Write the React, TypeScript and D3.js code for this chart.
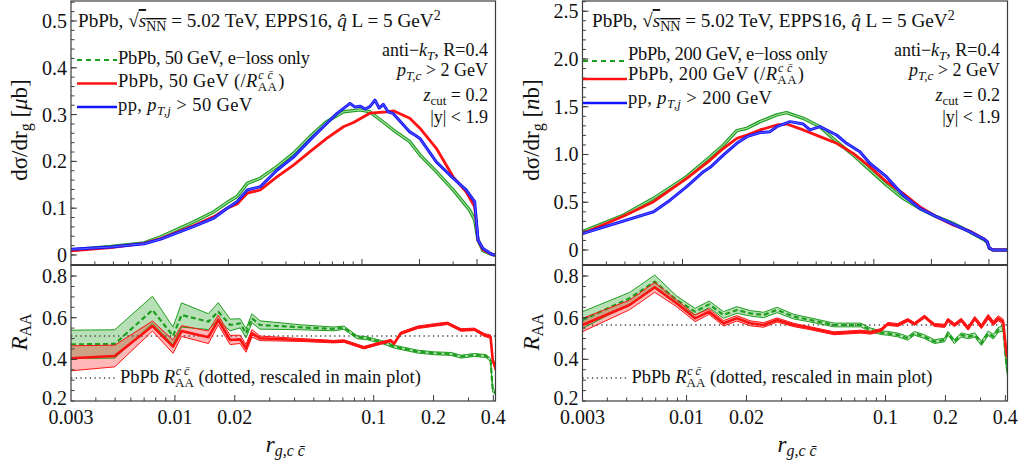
import * as d3 from "d3";
import React from "react";

// ---- data ----
// main panels: [r_g, dsigma/dr_g]
const left50Eloss: [number, number][] = [
  [0.003, 0.011], [0.00485, 0.018], [0.00724, 0.026], [0.00885, 0.039], [0.0132, 0.071],
  [0.0168, 0.0925], [0.0197, 0.112], [0.0222, 0.125], [0.0251, 0.153], [0.0294, 0.164],
  [0.0359, 0.189], [0.0438, 0.217], [0.0535, 0.253], [0.0654, 0.285], [0.08, 0.306],
  [0.0977, 0.31], [0.11, 0.306], [0.146, 0.267], [0.178, 0.242], [0.201, 0.214],
  [0.245, 0.178], [0.3, 0.139], [0.366, 0.096], [0.389, 0.075], [0.405, 0.032],
  [0.43, 0.009], [0.48, 0.001], [0.5, 0],
];
const left50Raa: [number, number][] = [
  [0.003, 0.009], [0.00485, 0.016], [0.00724, 0.025], [0.00885, 0.035], [0.0132, 0.063],
  [0.0168, 0.082], [0.0197, 0.1], [0.0222, 0.109], [0.0251, 0.132], [0.0294, 0.139],
  [0.0359, 0.167], [0.0438, 0.192], [0.0535, 0.221], [0.0654, 0.249], [0.08, 0.274],
  [0.0903, 0.283], [0.11, 0.303], [0.1349, 0.306], [0.146, 0.308], [0.178, 0.292],
  [0.201, 0.271], [0.245, 0.228], [0.3, 0.167], [0.351, 0.135], [0.389, 0.103],
  [0.405, 0.032], [0.43, 0.011], [0.48, 0.001], [0.5, 0],
];
const left50pp: [number, number][] = [
  [0.003, 0.012], [0.00485, 0.017], [0.00724, 0.024], [0.00885, 0.034], [0.0132, 0.061],
  [0.0168, 0.079], [0.0197, 0.1], [0.0222, 0.114], [0.0251, 0.139], [0.0294, 0.146],
  [0.0359, 0.181], [0.0438, 0.209], [0.0535, 0.246], [0.0654, 0.281], [0.0738, 0.302],
  [0.0866, 0.324], [0.092, 0.316], [0.0977, 0.318], [0.104, 0.312], [0.11, 0.317],
  [0.1169, 0.331], [0.123, 0.314], [0.1293, 0.322], [0.137, 0.306], [0.146, 0.302],
  [0.178, 0.263], [0.19, 0.256], [0.201, 0.249], [0.245, 0.199], [0.3, 0.164],
  [0.351, 0.139], [0.389, 0.114], [0.405, 0.032], [0.43, 0.014], [0.48, 0.001], [0.5, 0],
];

const right200Eloss: [number, number][] = [
  [0.003, 0.192], [0.00493, 0.366], [0.00706, 0.541], [0.01052, 0.768], [0.01396, 0.977],
  [0.01638, 1.1], [0.01923, 1.25], [0.02169, 1.274], [0.0254, 1.344], [0.0311, 1.414],
  [0.035, 1.438], [0.0428, 1.379], [0.0523, 1.291], [0.0639, 1.134], [0.078, 0.995],
  [0.0953, 0.838], [0.1164, 0.681], [0.1422, 0.541], [0.1738, 0.436], [0.2124, 0.349],
  [0.2595, 0.279], [0.317, 0.192], [0.379, 0.105], [0.392, 0.08], [0.4015, 0.019],
  [0.42, 0], [0.5, 0],
];
const right200Raa: [number, number][] = [
  [0.003, 0.171], [0.00493, 0.356], [0.00706, 0.506], [0.01052, 0.751], [0.01396, 0.942],
  [0.01638, 1.065], [0.01923, 1.169], [0.02169, 1.204], [0.0254, 1.257], [0.0311, 1.309],
  [0.035, 1.319], [0.0428, 1.257], [0.0523, 1.187], [0.0639, 1.117], [0.078, 1.012],
  [0.0953, 0.873], [0.1164, 0.715], [0.1422, 0.593], [0.1738, 0.454], [0.2124, 0.349],
  [0.2595, 0.262], [0.317, 0.199], [0.379, 0.112], [0.392, 0.085], [0.4015, 0.02],
  [0.42, 0], [0.5, 0],
];
const right200pp: [number, number][] = [
  [0.003, 0.171], [0.00706, 0.401], [0.00864, 0.524], [0.01052, 0.663], [0.01287, 0.82],
  [0.01396, 0.866], [0.01638, 0.995], [0.01923, 1.117], [0.02169, 1.187], [0.0254, 1.229],
  [0.02867, 1.239], [0.0311, 1.291], [0.0365, 1.344], [0.0428, 1.319], [0.0464, 1.257],
  [0.0523, 1.291], [0.0639, 1.204], [0.072, 1.117], [0.0846, 1.029], [0.0953, 0.908],
  [0.1164, 0.768], [0.1422, 0.576], [0.1738, 0.436], [0.2124, 0.349], [0.2595, 0.272],
  [0.317, 0.192], [0.379, 0.112], [0.392, 0.085], [0.4015, 0.02], [0.42, 0], [0.5, 0],
];

// ratio panels: [r_g, R_AA, half width of band]
const left50RatioEloss: [number, number, number][] = [
  [0.003, 0.472, 0.068], [0.00498, 0.474, 0.068], [0.00771, 0.637, 0.066], [0.00978, 0.512, 0.043],
  [0.0108, 0.613, 0.058], [0.01473, 0.581, 0.038], [0.01652, 0.629, 0.043], [0.01894, 0.565, 0.028],
  [0.02127, 0.573, 0.022], [0.0228, 0.525, 0.022], [0.0244, 0.597, 0.022], [0.0268, 0.565, 0.02],
  [0.0427, 0.554, 0.012], [0.063, 0.546, 0.009], [0.0708, 0.552, 0.008], [0.0826, 0.506, 0.007],
  [0.0928, 0.501, 0.007], [0.1126, 0.48, 0.007], [0.1266, 0.461, 0.007], [0.1668, 0.437, 0.007],
  [0.2026, 0.429, 0.007], [0.2449, 0.426, 0.007], [0.2749, 0.413, 0.007], [0.321, 0.421, 0.007],
  [0.367, 0.416, 0.007], [0.387, 0.397, 0.007], [0.397, 0.253, 0.01], [0.412, 0.237, 0.01],
];
const left50RatioRaa: [number, number, number][] = [
  [0.003, 0.405, 0.06], [0.00498, 0.416, 0.052], [0.00771, 0.56, 0.024], [0.00978, 0.461, 0.032],
  [0.0108, 0.536, 0.026], [0.01473, 0.506, 0.03], [0.01652, 0.589, 0.023], [0.01894, 0.493, 0.022],
  [0.02127, 0.496, 0.02], [0.0228, 0.453, 0.019], [0.0244, 0.525, 0.018], [0.0268, 0.501, 0.011],
  [0.0427, 0.493, 0.007], [0.063, 0.485, 0.006], [0.0708, 0.488, 0.006], [0.0893, 0.456, 0.006],
  [0.1044, 0.474, 0.006], [0.1218, 0.49, 0.006], [0.1266, 0.475, 0.006], [0.1368, 0.525, 0.006],
  [0.1668, 0.554, 0.006], [0.2026, 0.565, 0.006], [0.2353, 0.573, 0.006], [0.2749, 0.541, 0.006],
  [0.321, 0.544, 0.006], [0.3603, 0.517, 0.007], [0.387, 0.509, 0.008], [0.397, 0.397, 0.01],
  [0.412, 0.35, 0.01],
];
const right200RatioEloss: [number, number, number][] = [
  [0.003, 0.589, 0.04], [0.00517, 0.693, 0.028], [0.00692, 0.773, 0.032], [0.00891, 0.685, 0.019],
  [0.01104, 0.629, 0.016], [0.01298, 0.664, 0.016], [0.01535, 0.613, 0.016], [0.01791, 0.637, 0.016],
  [0.02091, 0.621, 0.013], [0.0244, 0.613, 0.013], [0.0285, 0.637, 0.013], [0.0346, 0.605, 0.011],
  [0.042, 0.589, 0.01], [0.0551, 0.565, 0.009], [0.0751, 0.565, 0.009], [0.0842, 0.541, 0.009],
  [0.0949, 0.528, 0.009], [0.1026, 0.525, 0.009], [0.1153, 0.517, 0.009], [0.1293, 0.501, 0.009],
  [0.1397, 0.525, 0.009], [0.157, 0.509, 0.009], [0.176, 0.485, 0.009], [0.198, 0.493, 0.009],
  [0.2058, 0.525, 0.009], [0.222, 0.485, 0.01], [0.24, 0.517, 0.01], [0.26, 0.509, 0.01],
  [0.281, 0.517, 0.01], [0.303, 0.477, 0.01], [0.328, 0.525, 0.011], [0.348, 0.509, 0.011],
  [0.368, 0.541, 0.012], [0.39, 0.549, 0.012], [0.404, 0.381, 0.015], [0.41, 0.333, 0.015],
];
const right200RatioRaa: [number, number, number][] = [
  [0.003, 0.565, 0.032], [0.00517, 0.661, 0.023], [0.00692, 0.746, 0.024], [0.00891, 0.669, 0.016],
  [0.01104, 0.597, 0.016], [0.01298, 0.629, 0.013], [0.01535, 0.573, 0.013], [0.01791, 0.597, 0.013],
  [0.02091, 0.573, 0.012], [0.0244, 0.565, 0.011], [0.0285, 0.589, 0.01], [0.0346, 0.565, 0.008],
  [0.042, 0.549, 0.007], [0.0551, 0.525, 0.007], [0.0751, 0.533, 0.007], [0.0842, 0.528, 0.007],
  [0.0949, 0.541, 0.007], [0.1026, 0.57, 0.007], [0.1153, 0.565, 0.007], [0.1293, 0.589, 0.007],
  [0.1397, 0.57, 0.007], [0.157, 0.605, 0.007], [0.176, 0.565, 0.007], [0.198, 0.561, 0.008],
  [0.2058, 0.589, 0.008], [0.222, 0.565, 0.008], [0.24, 0.589, 0.008], [0.26, 0.549, 0.009],
  [0.281, 0.597, 0.009], [0.303, 0.557, 0.01], [0.328, 0.605, 0.011], [0.348, 0.573, 0.011],
  [0.368, 0.597, 0.012], [0.39, 0.581, 0.012], [0.404, 0.437, 0.015], [0.41, 0.413, 0.015],
];

// PbPb R_AA^{cc} (dotted)
const leftRaaCC = 0.512;
const rightRaaCC = 0.565;

// ticks
const xMajorTicks = [0.003, 0.01, 0.02, 0.1, 0.2, 0.4];
const xTickLabels = ["0.003", "0.01", "0.02", "0.1", "0.2", "0.4"];
const xMinorTicks = [0.004, 0.005, 0.006, 0.007, 0.008, 0.009, 0.03, 0.04, 0.05, 0.06, 0.07, 0.08, 0.09, 0.3];
const leftYTicks = [0, 0.1, 0.2, 0.3, 0.4, 0.5];
const leftYLabels = ["0", "0.1", "0.2", "0.3", "0.4", "0.5"];
const rightYTicks = [0, 0.5, 1.0, 1.5, 2.0, 2.5];
const rightYLabels = ["0", "0.5", "1.0", "1.5", "2.0", "2.5"];
const ratioYTicks = [0.2, 0.4, 0.6, 0.8];
const ratioYLabels = ["0.2", "0.4", "0.6", "0.8"];

const FONT = "'Liberation Serif', 'Times New Roman', Times, serif";
const GREEN = "#1e9e1e";
const RED = "#ff1212";
const BLUE = "#1414ff";
const FRAME = "#3c3c3c";

const MAIN_TOP = 1;
const MAIN_BOT = 265;
const RATIO_BOT = 401;

type PanelProps = {
  id: string;
  x0: number;
  x1: number;
  yDomain: [number, number];
  yTicks: number[];
  yLabels: string[];
  yMinorStep: number;
  eloss: [number, number][];
  raa: [number, number][];
  pp: [number, number][];
  ratioEloss: [number, number, number][];
  ratioRaa: [number, number, number][];
  dotted: number;
  energy: string;
  unit: string;
  legX0: number;
  legX1: number;
  legLineY: number[];
  legTextY: number[];
  leg1Len: number;
  headerX: number;
  rightX: number;
};

const Sub = ({ children, size = 12, italic = false }: any) => (
  <tspan dy={4} fontSize={size} fontStyle={italic ? "italic" : "normal"}>{children}</tspan>
);

function Panel(p: PanelProps) {
  const xM = d3.scaleLog().domain([0.003, 0.5]).range([p.x0, p.x1]);
  const xR = d3.scaleLog().domain([0.003, 0.41]).range([p.x0, p.x1]);
  const yM = d3.scaleLinear().domain(p.yDomain).range([MAIN_BOT, MAIN_TOP]);
  const yR = d3.scaleLinear().domain([0.2, 0.853]).range([RATIO_BOT, MAIN_BOT]);

  const lineM = d3.line<[number, number]>().x((d) => xM(d[0])).y((d) => yM(d[1]));
  const midR = d3.line<[number, number, number]>().x((d) => xR(d[0])).y((d) => yR(d[1]));
  const hiR = d3.line<[number, number, number]>().x((d) => xR(d[0])).y((d) => yR(d[1] + d[2]));
  const loR = d3.line<[number, number, number]>().x((d) => xR(d[0])).y((d) => yR(d[1] - d[2]));
  const bandR = d3
    .area<[number, number, number]>()
    .x((d) => xR(d[0]))
    .y0((d) => yR(d[1] - d[2]))
    .y1((d) => yR(d[1] + d[2]));

  const yMinor = d3.range(p.yDomain[0] < 0 ? 0 : p.yDomain[0], p.yDomain[1], p.yMinorStep);
  const rMinor = d3.range(0.2, 0.85, 0.05);
  const w = p.x1 - p.x0;
  const [ly1, ly2, ly3] = p.legLineY;
  const [ty1, ty2, ty3] = p.legTextY;
  const tx = p.legX1 + 1;

  return (
    <g fontFamily={FONT}>
      <defs>
        <clipPath id={`m-${p.id}`}>
          <rect x={p.x0} y={MAIN_TOP} width={w} height={MAIN_BOT - MAIN_TOP} />
        </clipPath>
        <clipPath id={`r-${p.id}`}>
          <rect x={p.x0} y={MAIN_BOT} width={w} height={RATIO_BOT - MAIN_BOT} />
        </clipPath>
      </defs>

      {/* main curves */}
      <g clipPath={`url(#m-${p.id})`} fill="none" strokeLinejoin="round">
        <path d={lineM(p.eloss)!} stroke={GREEN} strokeWidth={3.4} />
        <path d={lineM(p.eloss)!} stroke="#a6dca6" strokeWidth={1.1} />
        <path d={lineM(p.raa)!} stroke={RED} strokeWidth={2.8} />
        <path d={lineM(p.pp)!} stroke={BLUE} strokeWidth={3} />
        <path d={lineM(p.pp)!} stroke="#6f6fff" strokeWidth={0.8} />
      </g>

      {/* ratio */}
      <g clipPath={`url(#r-${p.id})`} fill="none" strokeLinejoin="round">
        <path d={bandR(p.ratioEloss)!} fill={GREEN} fillOpacity={0.32} stroke="none" />
        <path d={bandR(p.ratioRaa)!} fill={RED} fillOpacity={0.3} stroke="none" />
        <line x1={p.x0} x2={p.x1} y1={yR(p.dotted)} y2={yR(p.dotted)} stroke="#444" strokeWidth={1.3} strokeDasharray="1.3,3.4" />
        <path d={hiR(p.ratioEloss)!} stroke={GREEN} strokeWidth={1} />
        <path d={loR(p.ratioEloss)!} stroke={GREEN} strokeWidth={1} />
        <path d={midR(p.ratioEloss)!} stroke={GREEN} strokeWidth={2.2} strokeDasharray="5,3" />
        <path d={hiR(p.ratioRaa)!} stroke={RED} strokeWidth={1} />
        <path d={loR(p.ratioRaa)!} stroke={RED} strokeWidth={1} />
        <path d={midR(p.ratioRaa)!} stroke={RED} strokeWidth={2.6} />
      </g>

      {/* frames */}
      <rect x={p.x0} y={MAIN_TOP} width={w} height={MAIN_BOT - MAIN_TOP} fill="none" stroke={FRAME} strokeWidth={1.2} />
      <rect x={p.x0} y={MAIN_BOT} width={w} height={RATIO_BOT - MAIN_BOT} fill="none" stroke={FRAME} strokeWidth={1.2} />
      <line x1={p.x0} x2={p.x1} y1={MAIN_BOT} y2={MAIN_BOT} stroke={FRAME} strokeWidth={2} />

      {/* ticks */}
      <g stroke={FRAME} strokeWidth={1}>
        {xMajorTicks.slice(1).map((t) => (
          <line key={`mx${t}`} x1={xM(t)} x2={xM(t)} y1={MAIN_BOT} y2={MAIN_BOT - 6} />
        ))}
        {xMinorTicks.map((t) => (
          <line key={`mn${t}`} x1={xM(t)} x2={xM(t)} y1={MAIN_BOT} y2={MAIN_BOT - 3.5} />
        ))}
        {xMajorTicks.slice(1).map((t) => (
          <line key={`rx${t}`} x1={xR(t)} x2={xR(t)} y1={RATIO_BOT} y2={RATIO_BOT - 6} />
        ))}
        {xMinorTicks.map((t) => (
          <line key={`rn${t}`} x1={xR(t)} x2={xR(t)} y1={RATIO_BOT} y2={RATIO_BOT - 3.5} />
        ))}
        {p.yTicks.map((t) => (
          <line key={`my${t}`} x1={p.x0} x2={p.x0 + 6} y1={yM(t)} y2={yM(t)} />
        ))}
        {yMinor.map((t) => (
          <line key={`myn${t}`} x1={p.x0} x2={p.x0 + 3.5} y1={yM(t)} y2={yM(t)} />
        ))}
        {ratioYTicks.slice(1).map((t) => (
          <line key={`ry${t}`} x1={p.x0} x2={p.x0 + 6} y1={yR(t)} y2={yR(t)} />
        ))}
        {rMinor.map((t) => (
          <line key={`ryn${t}`} x1={p.x0} x2={p.x0 + 3.5} y1={yR(t)} y2={yR(t)} />
        ))}
      </g>

      {/* tick labels */}
      <g fontSize={20} fill="#111">
        {xMajorTicks.map((t, i) => (
          <text key={`xl${t}`} x={xR(t)} y={424} textAnchor="middle">{xTickLabels[i]}</text>
        ))}
        {p.yTicks.map((t, i) => (
          <text key={`yl${t}`} x={p.x0 - 4} y={yM(t) + 7} textAnchor="end">{p.yLabels[i]}</text>
        ))}
        {ratioYTicks.map((t, i) => (
          <text key={`rl${t}`} x={p.x0 - 4} y={yR(t) + (i === 0 ? 4 : 7)} textAnchor="end">{ratioYLabels[i]}</text>
        ))}
      </g>

      {/* axis titles */}
      <text transform={`translate(${p.x0 - 44},130) rotate(-90)`} textAnchor="middle" fontSize={23} fill="#111">
        dσ/dr<Sub size={16}>g</Sub><tspan dy={-4}> [</tspan><tspan fontStyle="italic">{p.unit[0]}</tspan>{p.unit.slice(1)}]
      </text>
      <text transform={`translate(${p.x0 - 44},332) rotate(-90)`} textAnchor="middle" fontSize={23} fill="#111">
        <tspan fontStyle="italic">R</tspan><Sub size={16}>AA</Sub>
      </text>
      <text x={(p.x0 + p.x1) / 2 + 2} y={452} textAnchor="middle" fontSize={23} fill="#111">
        <tspan fontStyle="italic">r</tspan><Sub size={16} italic>g,c c̄</Sub>
      </text>

      {/* header */}
      <text x={p.headerX} y={27} fontSize={19.2} fill="#111">
        PbPb,{"  "}√<tspan fontStyle="italic" textDecoration="overline">s</tspan>
        <tspan dy={4} fontSize={14} textDecoration="overline">NN</tspan>
        <tspan dy={-4}> = 5.02 TeV, EPPS16, </tspan>
        <tspan fontStyle="italic">q̂</tspan> L = 5 GeV<tspan dy={-7} fontSize={14}>2</tspan>
      </text>

      {/* legend */}
      <line x1={p.legX0} x2={p.legX1} y1={ly1} y2={ly1} stroke={GREEN} strokeWidth={2} strokeDasharray="5,4" />
      <line x1={p.legX0} x2={p.legX1} y1={ly2} y2={ly2} stroke={RED} strokeWidth={2.4} />
      <line x1={p.legX0} x2={p.legX1} y1={ly3} y2={ly3} stroke={BLUE} strokeWidth={2.4} />
      <g fontSize={18.5} fill="#111">
        <text x={tx} y={ty1} textLength={p.leg1Len} lengthAdjust="spacing">PbPb, {p.energy} GeV, e−loss only</text>
        <text x={tx} y={ty2} letterSpacing={0.4}>
          PbPb, {p.energy} GeV (/<tspan fontStyle="italic">R</tspan>
          <tspan dy={4} fontSize={13}>AA</tspan>
          <tspan dx={-19} dy={-12} fontSize={12} fontStyle="italic">c c̄</tspan>
          <tspan dx={5} dy={8}>)</tspan>
        </text>
        <text x={tx} y={ty3} letterSpacing={0.4}>
          pp, <tspan fontStyle="italic">p</tspan><Sub size={13} italic>T,j</Sub>
          <tspan dy={-4}> &gt; {p.energy} GeV</tspan>
        </text>
      </g>

      {/* cuts */}
      <g fontSize={18} fill="#111" textAnchor="end">
        <text x={p.rightX} y={56}>
          anti−<tspan fontStyle="italic">k</tspan><Sub size={13} italic>T</Sub><tspan dy={-4}>, R=0.4</tspan>
        </text>
        <text x={p.rightX} y={76}>
          <tspan fontStyle="italic">p</tspan><Sub size={13} italic>T,c</Sub><tspan dy={-4}> &gt; 2 GeV</tspan>
        </text>
        <text x={p.rightX} y={101}>
          <tspan fontStyle="italic">z</tspan><Sub size={13}>cut</Sub><tspan dy={-4}> = 0.2</tspan>
        </text>
        <text x={p.rightX} y={123}>|y| &lt; 1.9</text>
      </g>

      {/* ratio legend */}
      <line x1={p.x0} x2={p.x0 + 47} y1={378} y2={378} stroke="#444" strokeWidth={1.3} strokeDasharray="1.3,3.4" />
      <text x={p.x0 + 49} y={383} fontSize={18.5} fill="#111">
        PbPb <tspan fontStyle="italic">R</tspan>
        <tspan dy={4} fontSize={13}>AA</tspan>
        <tspan dx={-18} dy={-12} fontSize={12} fontStyle="italic">c c̄</tspan>
        <tspan dx={9} dy={8}>(dotted, rescaled in main plot)</tspan>
      </text>
    </g>
  );
}

export default function App() {
  return (
    <svg width={1020} height={470} style={{ position: "absolute", left: 0, top: 0, background: "#fff" }}>
      <Panel
        id="l"
        x0={71}
        x1={495.5}
        yDomain={[-0.0214, 0.5427]}
        yTicks={leftYTicks}
        yLabels={leftYLabels}
        yMinorStep={0.02}
        eloss={left50Eloss}
        raa={left50Raa}
        pp={left50pp}
        ratioEloss={left50RatioEloss}
        ratioRaa={left50RatioRaa}
        dotted={leftRaaCC}
        energy="50"
        unit="μb"
        legX0={77}
        legX1={117}
        legLineY={[60, 83.5, 107]}
        legTextY={[64, 87, 111]}
        leg1Len={192}
        headerX={78}
        rightX={488}
      />
      <Panel
        id="r"
        x0={582.5}
        x1={1007.5}
        yDomain={[-0.157, 2.607]}
        yTicks={rightYTicks}
        yLabels={rightYLabels}
        yMinorStep={0.1}
        eloss={right200Eloss}
        raa={right200Raa}
        pp={right200pp}
        ratioEloss={right200RatioEloss}
        ratioRaa={right200RatioRaa}
        dotted={rightRaaCC}
        energy="200"
        unit="nb"
        legX0={583}
        legX1={627}
        legLineY={[61, 79, 103]}
        legTextY={[60, 80, 104]}
        leg1Len={200}
        headerX={592}
        rightX={1000}
      />
    </svg>
  );
}
